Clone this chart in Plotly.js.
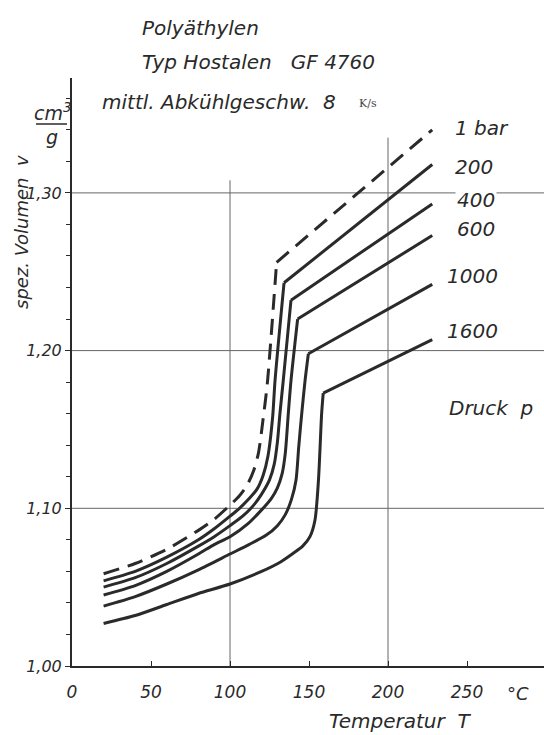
<!DOCTYPE html>
<html><head><meta charset="utf-8">
<script src="https://cdn.plot.ly/plotly-3.0.1.min.js"></script>
<style>html,body{margin:0;padding:0;background:#fff}</style>
</head><body><div id="chart" style="width:544px;height:735px"></div>
<script>
// ---- data ----
const pressureLabels = ["1 bar", "200", "400", "600", "1000", "1600"];

const T_p1    = [20, 40, 60, 80, 90, 100, 106, 111, 115, 118, 121, 123.6, 129.5, 228];
const v_p1    = [1.0585, 1.065, 1.074, 1.086, 1.093, 1.102, 1.108, 1.115, 1.124, 1.135, 1.157, 1.179, 1.256, 1.340];

const T_p200  = [20, 40, 60, 80, 90, 100, 106, 112, 117, 121, 124, 127, 128.5, 134.2, 228];
const v_p200  = [1.054, 1.060, 1.069, 1.080, 1.087, 1.095, 1.100, 1.106, 1.112, 1.121, 1.133, 1.158, 1.181, 1.243, 1.318];

const T_p400  = [20, 40, 60, 80, 90, 100, 108, 115, 120, 125, 128, 130, 131.6, 133.7, 138.6, 228];
const v_p400  = [1.050, 1.056, 1.065, 1.076, 1.082, 1.089, 1.095, 1.102, 1.109, 1.118, 1.128, 1.142, 1.160, 1.181, 1.232, 1.293];

const T_p600  = [20, 40, 60, 80, 90, 100, 111.6, 120, 126, 130, 133, 135, 136.9, 138.6, 142.8, 228];
const v_p600  = [1.045, 1.051, 1.060, 1.071, 1.077, 1.082, 1.0905, 1.099, 1.106, 1.113, 1.122, 1.135, 1.160, 1.181, 1.220, 1.273];

const T_p1000 = [20, 40, 60, 80, 100, 112, 123, 130, 135, 139, 141.8, 143.5, 145.4, 147.5, 149.6, 228];
const v_p1000 = [1.038, 1.044, 1.052, 1.061, 1.071, 1.077, 1.083, 1.089, 1.096, 1.106, 1.118, 1.139, 1.160, 1.181, 1.198, 1.242];

const T_p1600 = [20, 40, 60, 80, 100, 120, 132, 140, 146, 150.6, 153.8, 156, 158, 159, 228];
const v_p1600 = [1.027, 1.032, 1.039, 1.046, 1.052, 1.060, 1.066, 1.0715, 1.076, 1.082, 1.0926, 1.118, 1.160, 1.173, 1.207];

const xTickVals = [0, 50, 100, 150, 200, 250];
const xTickText = ["0", "50", "100", "150", "200", "250"];
const yTickVals = [1.00, 1.10, 1.20, 1.30];
const yTickText = ["1,00", "1,10", "1,20", "1,30"];

// ---- styling ----
const FONT = "DejaVu Sans";
const INK = "#2a2a2a";
const W = 544, H = 735, ML = 72, MT = 78, MB = 69, MR = 0;
const PW = W - ML - MR, PH = H - MT - MB;
const px = p => (p - ML) / PW;
const py = p => (H - MB - p) / PH;

const seriesT = [T_p1, T_p200, T_p400, T_p600, T_p1000, T_p1600];
const seriesV = [v_p1, v_p200, v_p400, v_p600, v_p1000, v_p1600];

const traces = [];
seriesT.forEach((T, i) => {
  const V = seriesV[i], n = T.length;
  const line = {color: INK, width: 3, dash: i === 0 ? "16px,9px" : "solid"};
  // smooth part up to the melting corner
  traces.push({x: T.slice(0, n - 1), y: V.slice(0, n - 1), mode: "lines", type: "scatter",
    name: pressureLabels[i], line: Object.assign({shape: "spline", smoothing: 0.7}, line),
    hoverinfo: "skip", showlegend: false});
  // straight melt branch from the corner
  traces.push({x: T.slice(n - 2), y: V.slice(n - 2), mode: "lines", type: "scatter",
    name: pressureLabels[i], line: Object.assign({shape: "linear"}, line),
    hoverinfo: "skip", showlegend: false});
});

const labelPos = [[453,128],[453,167],[455,200],[455,229],[445,276],[445,331]];
const ann = [];
pressureLabels.forEach((t, i) => {
  ann.push({xref:"paper", yref:"paper", x: px(labelPos[i][0]), y: py(labelPos[i][1]),
    xanchor:"left", yanchor:"middle", text: t, showarrow:false,
    font:{family:FONT, size:20, color:INK, style:"italic"},
    bgcolor: i === 2 ? "#ffffff" : "rgba(0,0,0,0)", borderpad: 1});
});
const txt = (text, x, y, size, anchor, extra) => Object.assign({
  xref:"paper", yref:"paper", x: px(x), y: py(y), xanchor: anchor || "left", yanchor:"middle",
  text, showarrow:false, font:{family:FONT, size, color:INK, style:"italic"}}, extra || {});

ann.push(txt("Druck  p", 447, 408, 20));
ann.push(txt("Polyäthylen", 140, 28, 20));
ann.push(txt("Typ Hostalen   GF 4760", 140, 62, 20));
ann.push(txt("mittl. Abkühlgeschw.  8", 100, 102, 20));
ann.push(txt("K/s", 357, 103, 11, "left", {font:{family:"DejaVu Serif", size:11, color:"#444"}}));
ann.push(txt("cm<sup>3</sup>", 73, 112, 19, "right"));
ann.push(txt("g", 52, 137, 19, "center"));
ann.push(txt("spez. Volumen  v", 22, 232, 18, "center", {textangle:-90}));
ann.push(txt("Temperatur  T", 400, 721, 20, "center"));
ann.push(txt("°C", 518, 693, 18, "center"));

const GRID = "#666";
const shapes = [
  {type:"line", xref:"paper", yref:"paper", x0:px(36), x1:px(67), y0:py(124), y1:py(124), line:{color:INK, width:1.5}},
  {type:"line", xref:"paper", yref:"y", x0:0, x1:1, y0:1.10, y1:1.10, line:{color:GRID, width:1}, layer:"below"},
  {type:"line", xref:"paper", yref:"y", x0:0, x1:1, y0:1.20, y1:1.20, line:{color:GRID, width:1}, layer:"below"},
  {type:"line", xref:"paper", yref:"y", x0:0, x1:1, y0:1.30, y1:1.30, line:{color:GRID, width:1}, layer:"below"},
  {type:"line", xref:"x", yref:"y", x0:100, x1:100, y0:1.0, y1:1.308, line:{color:GRID, width:1}, layer:"below"},
  {type:"line", xref:"x", yref:"y", x0:200, x1:200, y0:1.0, y1:1.335, line:{color:GRID, width:1}, layer:"below"}
];

const layout = {
  width: W, height: H, margin:{l:ML, r:MR, t:MT, b:MB, pad:0},
  paper_bgcolor:"#fff", plot_bgcolor:"#fff",
  showlegend:false,
  xaxis:{range:[0, PW/1.58], showgrid:false, zeroline:false, showline:true, linecolor:INK, linewidth:2,
    tickvals:xTickVals, ticktext:xTickText, ticks:"inside", ticklen:5, tickcolor:INK,
    tickfont:{family:FONT, size:17, color:INK, style:"italic"}, ticklabelstandoff:10, fixedrange:true},
  yaxis:{range:[1.0, 1.0 + PH/1577], showgrid:false, zeroline:false, showline:true, linecolor:INK, linewidth:2,
    tickvals:yTickVals, ticktext:yTickText, ticks:"outside", ticklen:5, tickcolor:INK,
    minor:{dtick:0.02, tick0:1.0, ticks:"outside", ticklen:4, tickcolor:INK, showgrid:false},
    tickfont:{family:FONT, size:16, color:INK, style:"italic"}, ticklabelstandoff:0, fixedrange:true},
  annotations: ann, shapes: shapes
};
Plotly.newPlot("chart", traces, layout, {displayModeBar:false, staticPlot:true});
</script></body></html>
